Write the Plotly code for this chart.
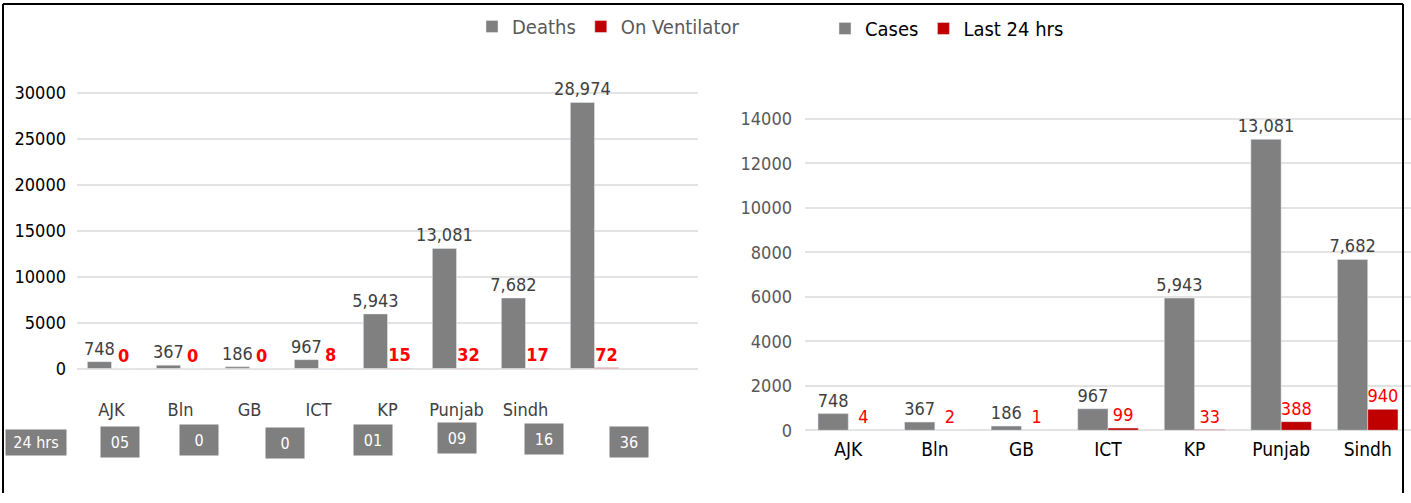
import plotly.graph_objects as go

# ---------------- data ----------------
left_categories = ["AJK", "Bln", "GB", "ICT", "KP", "Punjab", "Sindh", "Total"]
left_tick_text = ["AJK", "Bln", "GB", "ICT", "KP", "Punjab", "Sindh", ""]
left_deaths = [748, 367, 186, 967, 5943, 13081, 7682, 28974]
left_ventilator = [0, 0, 0, 8, 15, 32, 17, 72]
left_24hrs_label = "24 hrs"
left_24hrs = ["05", "0", "0", "01", "09", "16", "36"]

right_categories = ["AJK", "Bln", "GB", "ICT", "KP", "Punjab", "Sindh"]
right_cases = [748, 367, 186, 967, 5943, 13081, 7682]
right_last24 = [4, 2, 1, 99, 33, 388, 940]

left_yticks = [0, 5000, 10000, 15000, 20000, 25000, 30000]
right_yticks = [0, 2000, 4000, 6000, 8000, 10000, 12000, 14000]

# ---------------- style ----------------
W, H = 1411, 503
H_EFF = 495  # empirically measured vertical pixel span of the rendered page
FONT = "Liberation Sans Narrow, DejaVu Sans Condensed, Arial Narrow, sans-serif"
GRAY = "#808080"
RED = "#C00000"
LABEL_GRAY = "#404040"
LABEL_RED = "#FF0000"


def px_x(p):
    return p / W


def px_y(p):
    return 1 - p / H_EFF


fig = go.Figure()

# Left chart
fig.add_trace(go.Bar(
    x=left_categories, y=left_deaths, name="Deaths",
    marker=dict(color=GRAY), xaxis="x", yaxis="y", legend="legend",
    text=[f"{v:,}" for v in left_deaths], textposition="outside",
    constraintext="none",
    textfont=dict(color=LABEL_GRAY, size=18, family=FONT), cliponaxis=False,
))
fig.add_trace(go.Bar(
    x=left_categories, y=left_ventilator, name="On Ventilator",
    marker=dict(color=RED), xaxis="x", yaxis="y", legend="legend",
    text=[f"<b>{v}</b>" for v in left_ventilator], textposition="outside",
    constraintext="none",
    textfont=dict(color=LABEL_RED, size=18, family=FONT), cliponaxis=False,
))

# Right chart
fig.add_trace(go.Bar(
    x=right_categories, y=right_cases, name="Cases",
    marker=dict(color=GRAY), xaxis="x2", yaxis="y2", legend="legend2",
    text=[f"{v:,}" for v in right_cases], textposition="outside",
    constraintext="none",
    textfont=dict(color=LABEL_GRAY, size=18, family=FONT), cliponaxis=False,
))
fig.add_trace(go.Bar(
    x=right_categories, y=right_last24, name="Last 24 hrs",
    marker=dict(color=RED), xaxis="x2", yaxis="y2", legend="legend2",
    text=[f"{v}" for v in right_last24], textposition="outside",
    constraintext="none",
    textfont=dict(color=LABEL_RED, size=18, family=FONT), cliponaxis=False,
))

# 24 hrs boxes under the left chart
box_centers = [120, 199, 285, 373, 457, 544, 629]
box_mids = [444, 442, 445, 442, 440, 441, 444]
annotations = [dict(
    x=px_x(36), y=px_y(444), xref="paper", yref="paper",
    text=left_24hrs_label, showarrow=False, bgcolor="#7f7f7f",
    font=dict(color="white", size=16, family=FONT), width=58, height=23,
    xanchor="center", yanchor="middle",
)]
for v, cx, cy in zip(left_24hrs, box_centers, box_mids):
    annotations.append(dict(
        x=px_x(cx), y=px_y(cy), xref="paper", yref="paper",
        text=v, showarrow=False, bgcolor="#7f7f7f",
        font=dict(color="white", size=16, family=FONT), width=36, height=28,
        xanchor="center", yanchor="middle",
    ))

shapes = [
    dict(type="line", xref="paper", yref="paper", x0=px_x(3), x1=px_x(3), y0=0, y1=px_y(4),
         line=dict(color="black", width=2)),
    dict(type="line", xref="paper", yref="paper", x0=px_x(3), x1=px_x(1403), y0=px_y(4), y1=px_y(4),
         line=dict(color="black", width=2)),
    dict(type="line", xref="paper", yref="paper", x0=px_x(1403), x1=px_x(1403), y0=0, y1=px_y(4),
         line=dict(color="black", width=2)),
]

fig.update_layout(
    width=W, height=H,
    margin=dict(l=0, r=0, t=0, b=0),
    paper_bgcolor="white", plot_bgcolor="white",
    font=dict(family=FONT, color=LABEL_GRAY),
    barmode="group", bargap=0.3, bargroupgap=0.0,
    annotations=annotations, shapes=shapes,
    xaxis=dict(
        domain=[px_x(77), px_x(698)], anchor="y",
        range=[-0.5, 8.5], tickmode="array",
        tickvals=left_categories, ticktext=left_tick_text,
        showline=False, showgrid=False, ticks="", ticklabelstandoff=28,
        tickfont=dict(size=18, color=LABEL_GRAY, family=FONT),
    ),
    yaxis=dict(
        domain=[px_y(370), px_y(75)], anchor="x",
        range=[0, 32000], tickvals=left_yticks, tickformat="d",
        showgrid=True, gridcolor="#e3e3e3", gridwidth=2,
        zeroline=True, zerolinecolor="#e3e3e3", zerolinewidth=2,
        showline=False, ticks="", ticklabelstandoff=10,
        tickfont=dict(size=18, color="black", family=FONT),
    ),
    xaxis2=dict(
        domain=[px_x(805), 1.0], anchor="y2",
        showline=False, showgrid=False, ticks="", ticklabelstandoff=6,
        tickfont=dict(size=19, color="black", family=FONT),
    ),
    yaxis2=dict(
        domain=[px_y(432), px_y(97)], anchor="x2",
        range=[0, 15000], tickvals=right_yticks, tickformat="d",
        showgrid=True, gridcolor="#e3e3e3", gridwidth=2,
        zeroline=True, zerolinecolor="#e3e3e3", zerolinewidth=2,
        showline=False, ticks="", ticklabelstandoff=12,
        tickfont=dict(size=18, color="#595959", family=FONT),
    ),
    legend=dict(
        orientation="h", x=px_x(472), y=px_y(7), xanchor="left", yanchor="top",
        font=dict(size=20, color="#595959", family=FONT), itemwidth=30,
        bgcolor="rgba(0,0,0,0)",
    ),
    legend2=dict(
        orientation="h", x=px_x(825), y=px_y(9), xanchor="left", yanchor="top",
        font=dict(size=20, color="black", family=FONT), itemwidth=30,
        bgcolor="rgba(0,0,0,0)",
    ),
)

fig.write_html("out.html", config={"displayModeBar": False},
               post_script="document.body.style.margin='0';")
